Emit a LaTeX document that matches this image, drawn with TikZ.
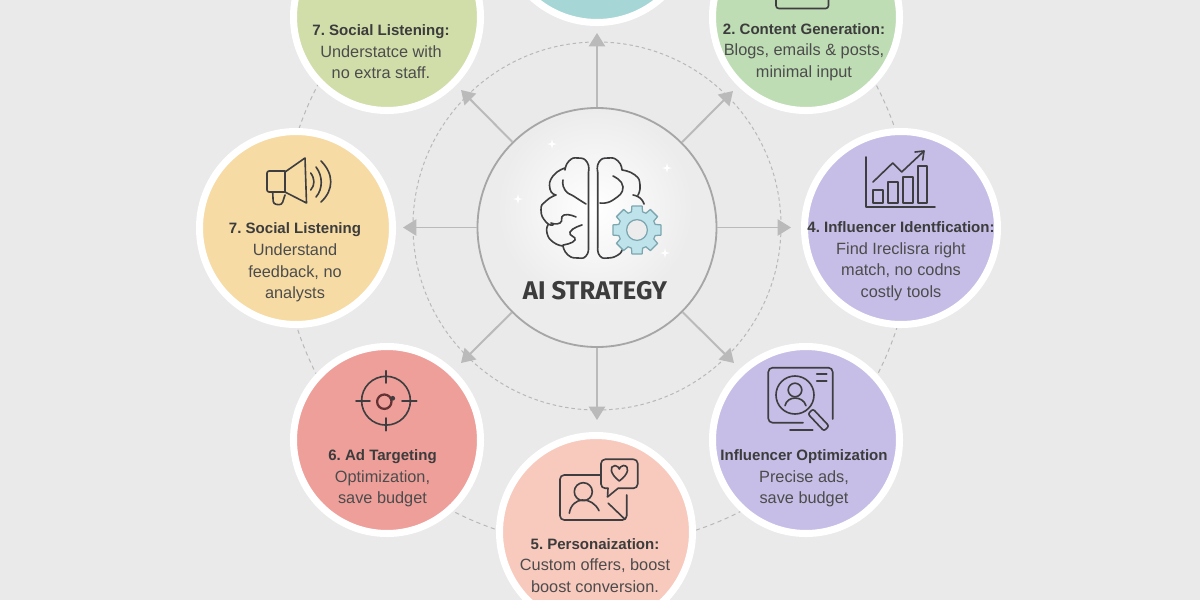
\documentclass[tikz,border=0pt]{standalone}
\usepackage{fontspec}
\setmainfont{Liberation Sans}
\newfontfamily\titlefont{Fira Sans}
\usetikzlibrary{arrows.meta}
\frenchspacing
\definecolor{bggray}{HTML}{EAEAEA}
\definecolor{coregray}{HTML}{ECECEC}
\definecolor{ringgray}{HTML}{B8B8B8}
\definecolor{spokegray}{HTML}{BABABA}
\definecolor{icondark}{HTML}{3E3E40}
\definecolor{textdark}{HTML}{3C3C3C}
\definecolor{textbody}{HTML}{4C4C4C}
\definecolor{tealfill}{HTML}{A6D6D6}
\definecolor{olivefill}{HTML}{D1DEAA}
\definecolor{greenfill}{HTML}{BFDDB4}
\definecolor{yellowfill}{HTML}{F6DBA4}
\definecolor{violetfill}{HTML}{C6BEE6}
\definecolor{redfill}{HTML}{EE9F9A}
\definecolor{peachfill}{HTML}{F8C9BD}
\definecolor{gearfill}{HTML}{BFE3EA}
\definecolor{gearline}{HTML}{7BA6B0}
\newcommand{\headtext}[1]{{\bfseries\color{textdark}\fontsize{10.7}{15.3}\selectfont #1}}

\begin{document}
\begin{tikzpicture}[x=.25mm,y=-.25mm]
	\useasboundingbox (0,0) rectangle (1200,600);
	\clip (0,0) rectangle (1200,600);
	\fill[bggray] (0,0) rectangle (1200,600);
	\draw[ringgray,line width=.7pt,dash pattern=on 3pt off 2.5pt] (597,231) circle (78.75mm);
	\draw[ringgray,line width=.7pt,dash pattern=on 2.5pt off 2pt] (597,226) circle (46mm);
	\begin{scope}[every node/.style={circle,draw=white,line width=5pt,inner sep=0pt,minimum size=46.75mm}]
		\node[fill=tealfill,minimum size=48.25mm] (hubtop) at (597,-74) {};
		\node[fill=olivefill] (olive) at (387,17) {};
		\node[fill=greenfill] (content) at (806,17) {};
		\node[fill=yellowfill,minimum size=48.25mm] (listen) at (296,228) {};
		\node[fill=violetfill,minimum size=48.25mm] (finder) at (901,228) {};
		\node[fill=redfill] (adtarget) at (387,440) {};
		\node[fill=violetfill] (optim) at (806,440) {};
		\node[fill=peachfill,minimum size=48.25mm] (person) at (596,532) {};
	\end{scope}
	\node[circle,draw=ringgray!90!black,fill=coregray,line width=1.3pt,inner sep=0pt,minimum size=59.75mm] (core) at (597,227.5) {};
	\shade[inner color=white,outer color=coregray] (595,208) circle (24.5mm);
	\coordinate (tipn) at (597,33);
	\coordinate (tipne) at (733,91);
	\coordinate (tipe) at (791,227.5);
	\coordinate (tipse) at (734,363);
	\coordinate (tips) at (597,420);
	\coordinate (tipsw) at (461,363);
	\coordinate (tipw) at (403,227.5);
	\coordinate (tipnw) at (461,90);
	\begin{scope}[every edge/.style={draw,spokegray,line width=1.4pt,-{Triangle[length=9.5pt,width=11.5pt]}}]
		\path (core) edge (tipn) edge (tipne) edge (tipe) edge (tipse);
		\path (core) edge (tips) edge (tipsw) edge (tipw) edge (tipnw);
	\end{scope}

	\begin{scope}[every path/.style={draw=icondark,line width=1.15pt,line join=round,line cap=round}]
		\draw plot[smooth,tension=1] coordinates {(588.5,172) (587,162) (578,158) (569,161) (565,170)}
			plot[smooth,tension=1] coordinates {(565,168) (553,176) (550,189) (556,195)}
			plot[smooth,tension=1] coordinates {(556,195) (546,201) (541,210) (546,222) (553,225)}
			plot[smooth,tension=1] coordinates {(548,225) (547,233) (553,242) (563,246)}
			plot[smooth,tension=1] coordinates {(563,246) (568,255) (578,258) (586,256) (588.5,248)}
			plot[smooth,tension=1] coordinates {(563,180) (565,190) (575,197) (586,204)}
			plot[smooth,tension=1] coordinates {(551,223) (560,223) (564,215) (576,217)}
			plot[smooth,tension=1] coordinates {(563,245) (575,240) (570,232) (582,225)}
			(588.5,172) -- (588.5,248);
		\draw plot[smooth,tension=1] coordinates {(597.7,172) (599,162) (608,158) (618,161) (622,170)}
			plot[smooth,tension=1] coordinates {(622,170) (635,175) (640,185) (638,195)}
			plot[smooth,tension=1] coordinates {(633,195) (640,198) (644,204)}
			plot[smooth,tension=1] coordinates {(597.7,248) (600,256) (608,258) (618,255) (622,250)}
			plot[smooth,tension=1] coordinates {(600,203) (613,200) (623,187) (613,176)}
			(597.7,172) -- (597.7,248);
		\begin{scope}[shift={(637,230)}]
			\draw[draw=gearline,fill=gearfill,line width=.9pt] (-12:24.5)
				\foreach \a in {0,45,...,315} {-- (\a-12:24.5) -- (\a+12:24.5) -- (\a+17:19) -- (\a+28:19)} -- cycle;
			\draw[draw=gearline,fill=coregray,line width=.9pt] (0,0) circle (2.6mm);
		\end{scope}
		% megaphone
		\draw[rounded corners=1.5pt] (285,171) -- (267,171) -- (267,192) -- (285,192);
		\draw (285,172) -- (305,158) -- (306.5,203) -- (285,192) -- cycle;
		\draw[rounded corners=2pt] (272.7,192) -- (273.3,204) -- (281.7,205) -- (285,195);
		\draw (310.7,173) .. controls (315,179) and (315,185) .. (310.7,190);
		\draw (316,167) .. controls (323,176) and (323,189) .. (316,197);
		\draw (321,161) .. controls (334,174) and (334,190) .. (321,202);
		% chart
		\draw (866,157) -- (866,207) -- (935,207);
		\draw (872.7,190) rectangle (882.7,203);
		\draw (887.7,182) rectangle (897.7,203);
		\draw (902.7,177) rectangle (912.7,203);
		\draw (918,166) rectangle (927,203);
		\draw (873,182) -- (892.7,163) -- (901.7,172) -- (923,152);
		\draw (915,152) -- (924,151) -- (922.7,160);
		% target
		\draw (386,400.7) circle (6.1mm);
		\draw (386,370.7) -- (386,383) (386,418) -- (386,430.7);
		\draw (356,400.7) -- (370,400.7) (402,400.7) -- (416.7,400.7);
		\draw[draw=icondark!80!red,line width=1.6pt] (384.3,401.7) circle (1.8mm);
		\fill[icondark,draw=none] (392.7,398.3) circle (.6mm);
		% search
		\draw[rounded corners=3pt] (803,422.7) -- (768.3,422.7) -- (768.3,367.7) -- (832.7,367.7) -- (832.7,419);
		\draw (790,430) -- (812.7,430);
		\draw (816.7,374.3) -- (826.7,374.3) (816.7,380.7) -- (826.7,380.7);
		\draw (795,395) circle (4.75mm);
		\draw (795,390) circle (1.7mm);
		\draw (785,405.7) .. controls (787,395.5) and (803,395.5) .. (806,405.7);
		\draw[rounded corners=1.5pt] (808,414) -- (813,409) -- (829,426) -- (824,431) -- cycle;
		% chat
		\draw[rounded corners=3pt] (600,475) -- (560,475) -- (560,520) -- (626.7,520) -- (626.7,495);
		\draw (583.3,491.7) circle (2.25mm);
		\draw (569.3,513.3) .. controls (572,496) and (592,496) .. (599,510.7);
		\draw (608.3,503.3) -- (625,519.3);
		\draw[rounded corners=3pt] (608,488.3) -- (601,488.3) -- (601,459.3) -- (637.7,459.3) -- (637.7,488.3) -- (618,488.3);
		\draw (608,488.3) -- (607.5,497) -- (618,488.3);
		\draw (619.3,481) .. controls (610,474) and (609,466) .. (615,465.5) .. controls (617.5,465.5) and (619,468) .. (619.3,469) .. controls (619.6,468) and (621,465.5) .. (623.5,465.5) .. controls (630,466) and (629,474) .. (619.3,481);
		% top icon stub
		\draw[rounded corners=2pt] (776,-8) -- (776,8.5) -- (828.5,8.5) -- (828.5,-8);
	\end{scope}
	\foreach \sx/\sy in {552/144,667/168,518/199,665/253} {
		\fill[white] (\sx,\sy-5) -- (\sx+1,\sy-1) -- (\sx+5,\sy) -- (\sx+1,\sy+1) -- (\sx,\sy+5) -- (\sx-1,\sy+1) -- (\sx-5,\sy) -- (\sx-1,\sy-1) -- cycle;
	}

	\node[font=\titlefont\bfseries\fontsize{18.2}{21}\selectfont,text=textdark] (title) at (595,291) {AI STRATEGY};
	\begin{scope}[every node/.style={align=center,inner sep=0pt,text=textbody,font=\fontsize{11.6}{15.3}\selectfont}]
		\node (textolive) at (381,52) {\headtext{7. Social Listening:}\\Understatce with\\no extra staff.};
		\node (textcontent) at (804,52) {\headtext{2. Content Generation:}\\Blogs, emails \& posts,\\minimal input};
		\node (textlisten) at (295,262.5) {\headtext{7. Social Listening}\\Understand\\feedback, no\\analysts};
		\node (textfinder) at (901,261) {\headtext{4. Influencer Identfication:}\\Find Ireclisra right\\match, no codns\\costly tools};
		\node (textad) at (382.5,478.5) {\headtext{6. Ad Targeting}\\Optimization,\\save budget};
		\node (textoptim) at (804,478.5) {\headtext{Influencer Optimization}\\Precise ads,\\save budget};
		\node (textperson) at (595,565.5) {\headtext{5. Personaization:}\\Custom offers, boost\\boost conversion.};
	\end{scope}
\end{tikzpicture}
\end{document}
